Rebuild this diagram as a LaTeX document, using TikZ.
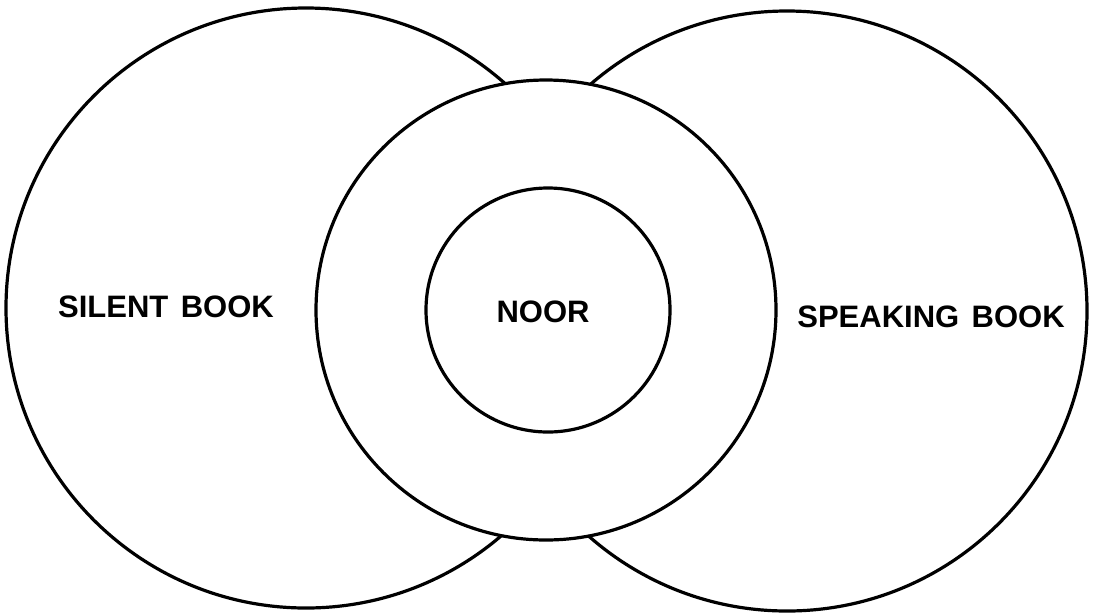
\documentclass[tikz,border=0pt]{standalone}
\usepackage{fontspec}
\setmainfont{Liberation Sans}
\begin{document}
\begin{tikzpicture}[x=1pt,y=-1pt,
  ring/.style={circle,draw=black,line width=3.2pt,inner sep=0pt},
  label/.style={font=\fontsize{31}{36}\selectfont\bfseries,anchor=base,inner sep=0pt}]
\useasboundingbox (0,0) rectangle (1094,614);
\fill[white] (0,0) rectangle (1094,614);
\node[ring,minimum size=600pt] (silent) at (306,308) {};
\node[ring,minimum size=600pt] (speaking) at (787,311) {};
\node[ring,fill=white,minimum size=460pt] (mid) at (546,310) {};
\node[ring,minimum size=244pt] (noor) at (548,310) {};
\node[label] (tsilent) at (166,317) {SILENT\hspace{0.4em}BOOK};
\node[label] (tnoor) at (543,322) {NOOR};
\node[label] (tspeaking) at (931,327) {SPEAKING\hspace{0.4em}BOOK};
\end{tikzpicture}
\end{document}
